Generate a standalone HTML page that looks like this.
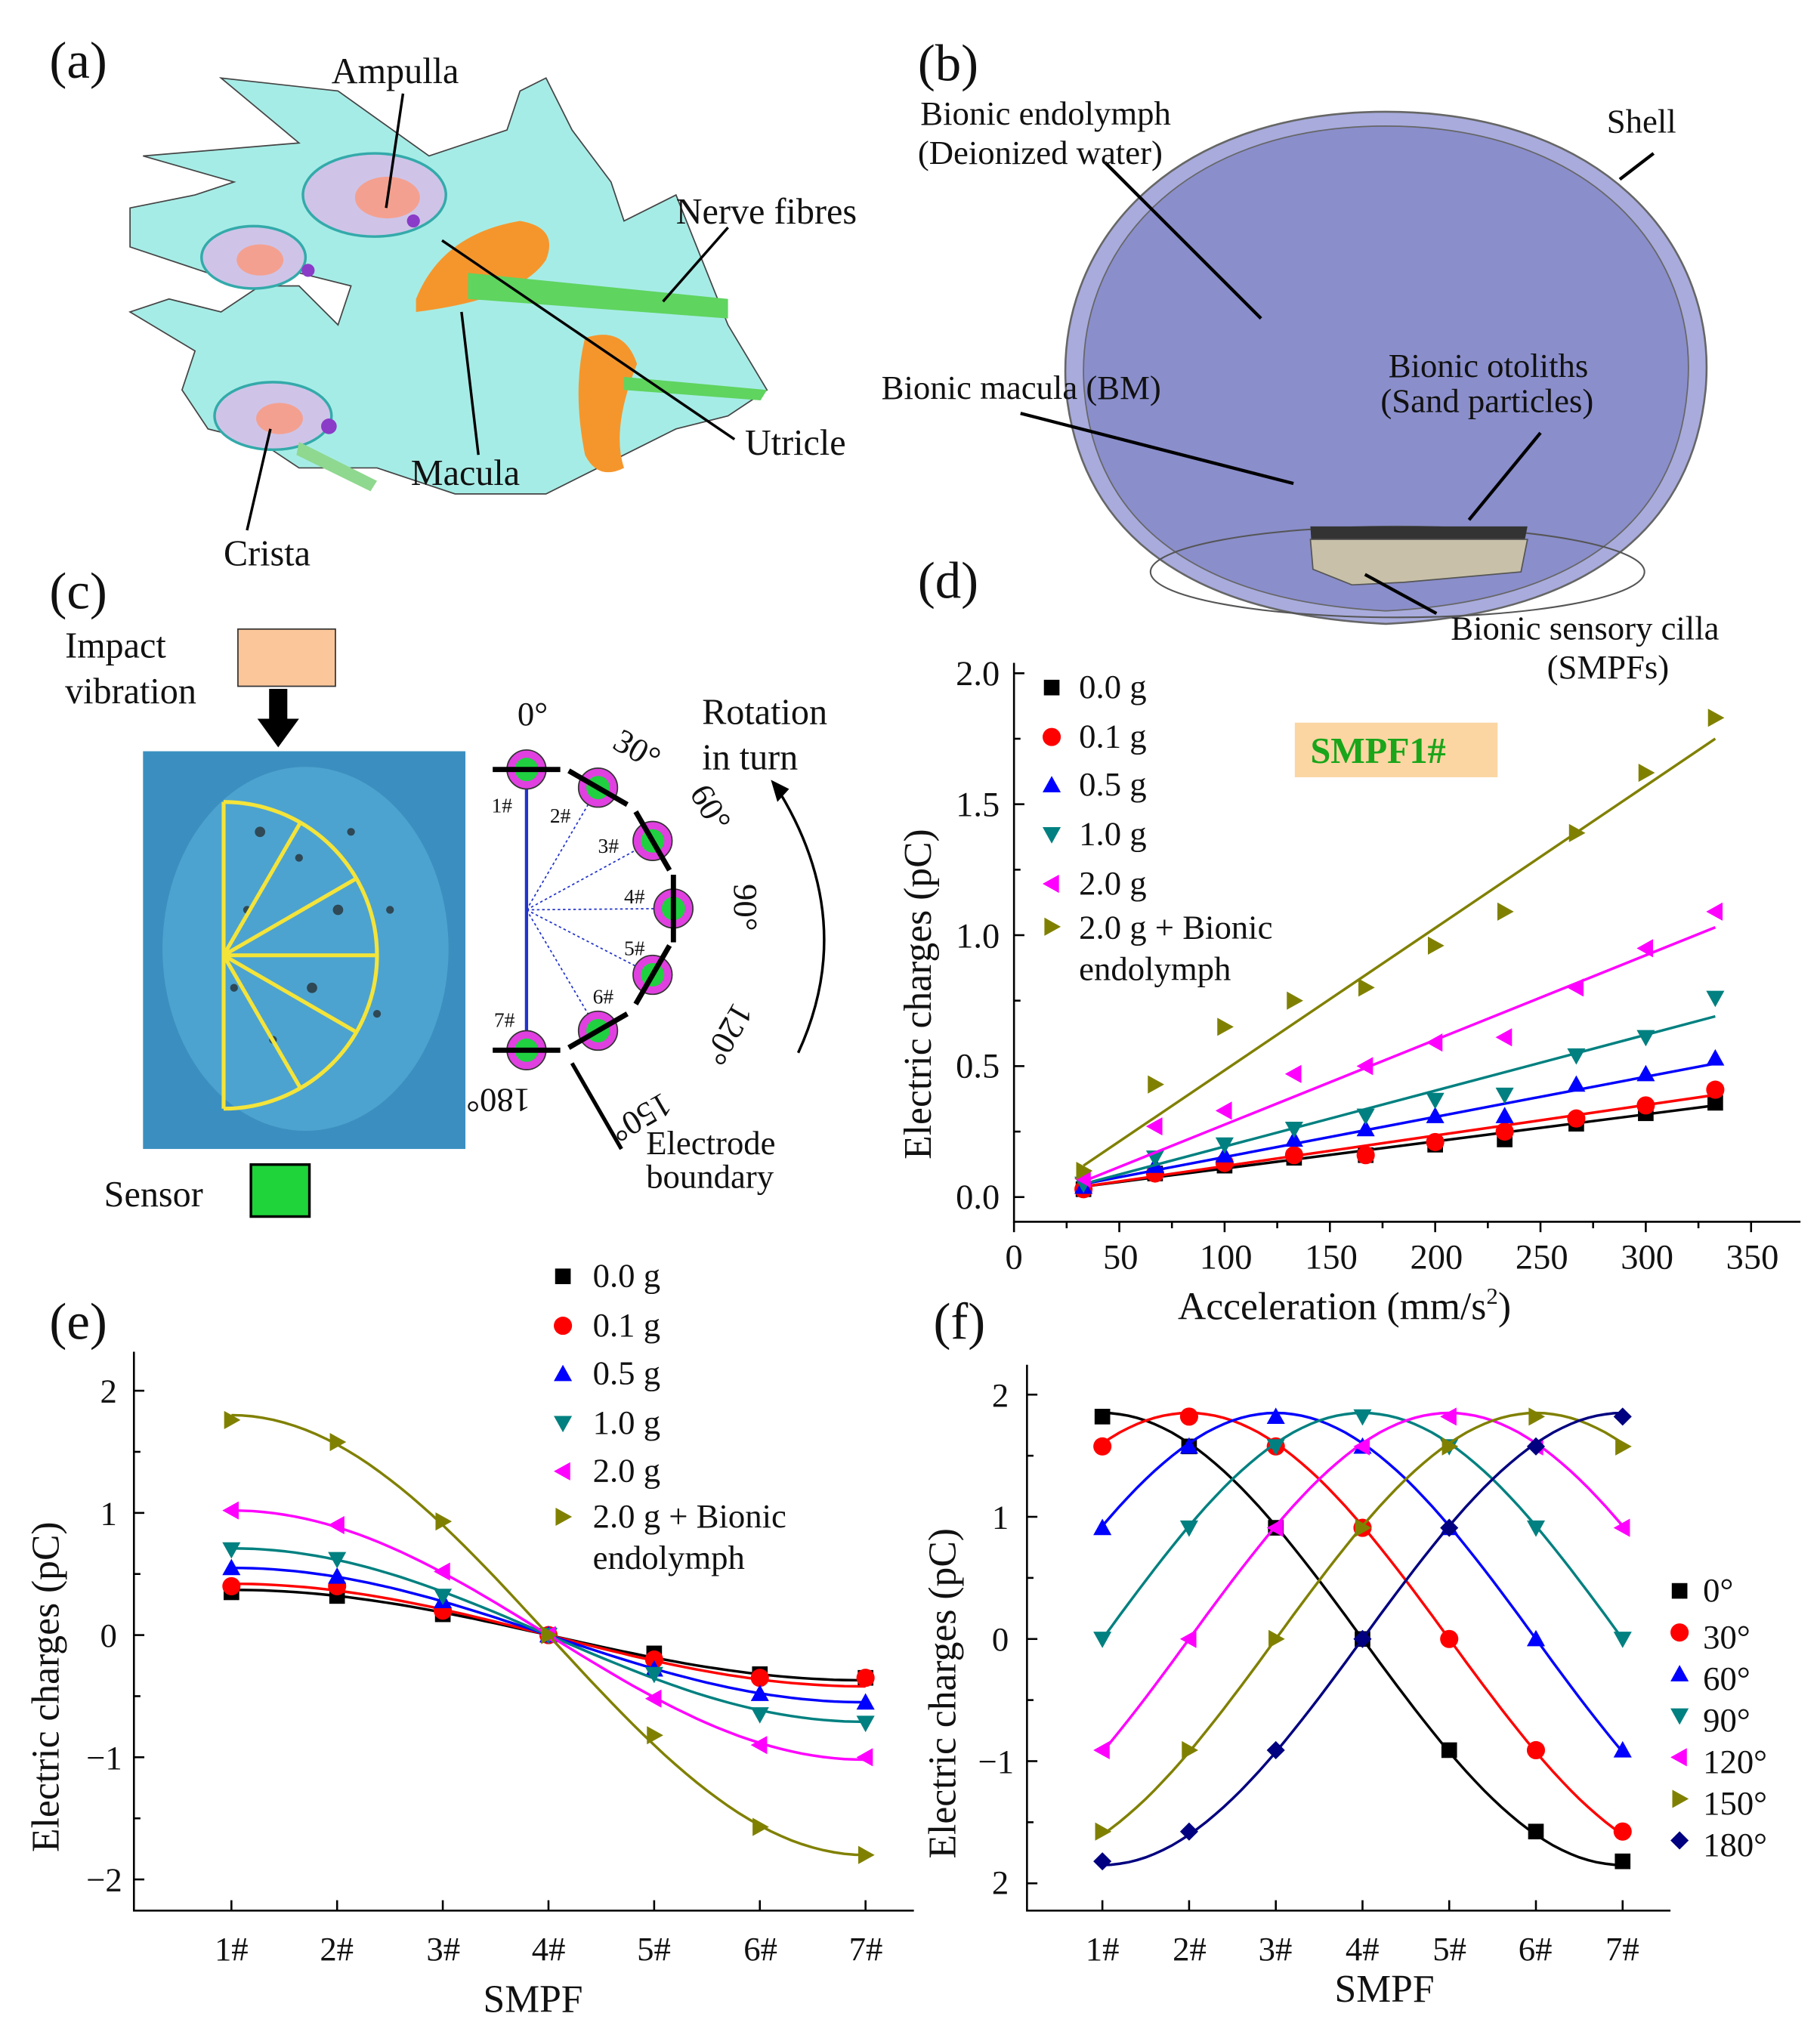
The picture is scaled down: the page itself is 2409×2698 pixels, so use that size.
<!DOCTYPE html>
<html><head><meta charset="utf-8"><style>
html,body{margin:0;padding:0;background:#fff}
svg{display:block}
text{font-family:"Liberation Serif",serif;fill:#111}
</style></head><body>
<svg id="s" width="2409" height="2698" viewBox="0 0 1400 1568" xmlns="http://www.w3.org/2000/svg">
<rect width="1400" height="1568" fill="#fff"/>
<!-- Panel a -->
<g>
<path d="M110 120 L230 110 L170 60 L260 70 L330 120 L390 100 L400 70 L420 60 L430 80 L440 100 L470 140 L480 170 L520 150 L560 250 L590 300 L560 320 L520 330 L460 360 L420 380 L350 380 L290 360 L230 360 L200 340 L160 330 L140 300 L150 270 L100 240 L130 230 L170 240 L200 220 L230 220 L260 250 L270 220 L230 210 L160 210 L100 190 L100 160 L150 150 L180 140 Z" fill="#a6ece6" stroke="#444" stroke-width="1"/>
<ellipse cx="288" cy="150" rx="55" ry="32" fill="#cfc4e8" stroke="#3aa" stroke-width="2"/>
<ellipse cx="298" cy="152" rx="25" ry="16" fill="#f4a090"/>
<ellipse cx="195" cy="198" rx="40" ry="24" fill="#cfc4e8" stroke="#3aa" stroke-width="2"/>
<ellipse cx="200" cy="200" rx="18" ry="12" fill="#f4a090"/>
<ellipse cx="210" cy="320" rx="45" ry="26" fill="#cfc4e8" stroke="#3aa" stroke-width="2"/>
<ellipse cx="215" cy="322" rx="18" ry="12" fill="#f4a090"/>
<path d="M320 230 Q340 180 400 170 Q430 175 420 200 Q400 230 320 240 Z" fill="#f5962c"/>
<path d="M450 260 Q480 250 490 280 Q470 330 480 360 Q460 370 450 350 Q440 300 450 260 Z" fill="#f5962c"/>
<path d="M360 210 L560 230 L560 245 L360 230 Z" fill="#5fd45f"/>
<path d="M480 290 L590 300 L585 308 L480 300 Z" fill="#5fd45f"/>
<path d="M230 340 L290 370 L285 378 L228 350 Z" fill="#8fd88f"/>
<circle cx="237" cy="208" r="5" fill="#8a3bc8"/><circle cx="318" cy="170" r="5" fill="#8a3bc8"/><circle cx="253" cy="328" r="6" fill="#8a3bc8"/>
<g stroke="#000" stroke-width="2"><line x1="310" y1="72" x2="297" y2="160"/><line x1="560" y1="175" x2="510" y2="232"/><line x1="340" y1="185" x2="565" y2="338"/><line x1="355" y1="240" x2="368" y2="350"/><line x1="208" y1="330" x2="190" y2="408"/></g>
<text x="38" y="60" font-size="40">(a)</text>
<text x="255" y="64" font-size="28">Ampulla</text>
<text x="520" y="172" font-size="28">Nerve fibres</text>
<text x="573" y="350" font-size="28">Utricle</text>
<text x="316" y="373" font-size="28">Macula</text>
<text x="172" y="435" font-size="28">Crista</text>
</g>
<!-- Panel b -->
<g>
<path d="M1066 86 C1235 86 1322 190 1312 300 C1302 400 1230 472 1066 480 C900 472 830 400 820 300 C812 190 897 86 1066 86 Z" fill="#a8abdc" stroke="#666" stroke-width="1.5"/>
<path d="M1066 97 C1225 97 1308 195 1298 300 C1290 395 1222 462 1066 470 C910 462 842 395 834 300 C826 195 907 97 1066 97 Z" fill="#8a8ecb" stroke="#666" stroke-width="1"/>
<ellipse cx="1075" cy="440" rx="190" ry="35" fill="none" stroke="#555" stroke-width="1.2"/>
<path d="M1008 405 L1175 405 L1170 430 L1120 440 L1010 438 Z" fill="#333"/>
<path d="M1008 415 L1175 415 L1170 440 L1080 448 L1040 450 L1010 438 Z" fill="#c8c0a8" stroke="#555"/>
<g stroke="#000" stroke-width="2.5"><line x1="850" y1="125" x2="970" y2="245"/><line x1="1272" y1="118" x2="1246" y2="138"/><line x1="785" y1="318" x2="995" y2="372"/><line x1="1185" y1="333" x2="1130" y2="400"/><line x1="1050" y1="442" x2="1105" y2="472"/></g>
<text x="706" y="62" font-size="40">(b)</text>
<text x="708" y="96" font-size="26">Bionic endolymph</text>
<text x="706" y="126" font-size="26">(Deionized water)</text>
<text x="1236" y="102" font-size="26">Shell</text>
<text x="678" y="307" font-size="26">Bionic macula (BM)</text>
<text x="1068" y="290" font-size="26">Bionic otoliths</text>
<text x="1062" y="317" font-size="26">(Sand particles)</text>
<text x="1116" y="492" font-size="26">Bionic sensory cilla</text>
<text x="1190" y="522" font-size="26">(SMPFs)</text>
</g>
<!-- Panel c -->
<g>
<text x="38" y="468" font-size="40">(c)</text>
<text x="50" y="506" font-size="28">Impact</text>
<text x="50" y="541" font-size="28">vibration</text>
<rect x="183" y="484" width="75" height="44" fill="#fbc79a" stroke="#333"/>
<rect x="207" y="530" width="14" height="25" fill="#000"/><path d="M198 553 L230 553 L214 575 Z" fill="#000"/>
<rect x="110" y="578" width="248" height="306" fill="#3b8fc0"/>
<ellipse cx="235" cy="730" rx="110" ry="140" fill="#5ab0d8" opacity="0.6"/>
<g fill="#222" opacity="0.7"><circle cx="200" cy="640" r="4"/><circle cx="230" cy="660" r="3"/><circle cx="260" cy="700" r="4"/><circle cx="190" cy="700" r="3"/><circle cx="240" cy="760" r="4"/><circle cx="270" cy="640" r="3"/><circle cx="210" cy="800" r="3"/><circle cx="290" cy="780" r="3"/><circle cx="180" cy="760" r="3"/><circle cx="300" cy="700" r="3"/></g>
<g stroke="#f4e43a" stroke-width="3" fill="none"><path d="M172 617 A118 118 0 0 1 172 853"/><line x1="172" y1="617" x2="172" y2="853"/><line x1="172" y1="735" x2="231" y2="633"/><line x1="172" y1="735" x2="274" y2="676"/><line x1="172" y1="735" x2="290" y2="735"/><line x1="172" y1="735" x2="274" y2="794"/><line x1="172" y1="735" x2="231" y2="837"/></g>
<text x="80" y="928" font-size="28">Sensor</text>
<rect x="193" y="896" width="45" height="40" fill="#1ed43a" stroke="#000" stroke-width="2"/>
<line x1="405" y1="592" x2="405" y2="808" stroke="#2233cc" stroke-width="2.5"/>
<g stroke="#2233cc" stroke-width="1" stroke-dasharray="2,2"><line x1="405" y1="700" x2="460" y2="606"/><line x1="405" y1="700" x2="502" y2="647"/><line x1="405" y1="700" x2="518" y2="699"/><line x1="405" y1="700" x2="502" y2="750"/><line x1="405" y1="700" x2="460" y2="793"/></g>
<g id="dots"></g>
<text x="398" y="558" font-size="26">0°</text>
<text x="470" y="575" font-size="26" transform="rotate(30 470 575)">30°</text>
<text x="530" y="610" font-size="26" transform="rotate(60 530 610)">60°</text>
<text x="565" y="680" font-size="26" transform="rotate(90 565 680)">90°</text>
<text x="565" y="770" font-size="26" transform="rotate(120 565 770)">120°</text>
<text x="510" y="840" font-size="26" transform="rotate(150 510 840)">150°</text>
<text x="408" y="838" font-size="26" transform="rotate(180 408 838)">180°</text>
<text x="378" y="625" font-size="16">1#</text><text x="423" y="633" font-size="16">2#</text><text x="460" y="656" font-size="16">3#</text><text x="480" y="695" font-size="16">4#</text><text x="480" y="735" font-size="16">5#</text><text x="456" y="772" font-size="16">6#</text><text x="380" y="790" font-size="16">7#</text>
<text x="540" y="557" font-size="28">Rotation</text>
<text x="540" y="592" font-size="28">in turn</text>
<path d="M614 810 Q660 710 600 610" fill="none" stroke="#000" stroke-width="2"/><path d="M593 600 L607 607 L598 617 Z" fill="#000"/>
<line x1="440" y1="818" x2="478" y2="884" stroke="#000" stroke-width="3"/>
<text x="497" y="888" font-size="26">Electrode</text>
<text x="497" y="914" font-size="26">boundary</text>
</g>
<!-- Panel d -->
<g>
<text x="706" y="460" font-size="40">(d)</text>
<path d="M780 510 L780 940 L1385 940" fill="none" stroke="#000" stroke-width="1.5"/>
<rect x="996" y="556" width="156" height="42" fill="#fbd6a2"/>
<text x="1008" y="587" font-size="28" font-weight="bold" style="fill:#1aa51a">SMPF1#</text>
<g font-size="27" text-anchor="end"><text x="769" y="930">0.0</text><text x="769" y="829">0.5</text><text x="769" y="729">1.0</text><text x="769" y="628">1.5</text><text x="769" y="527">2.0</text></g>
<g font-size="27" text-anchor="middle"><text x="780" y="976">0</text><text x="862" y="976">50</text><text x="943" y="976">100</text><text x="1024" y="976">150</text><text x="1105" y="976">200</text><text x="1186" y="976">250</text><text x="1267" y="976">300</text><text x="1348" y="976">350</text></g>
<text x="906" y="1015" font-size="30">Acceleration (mm/s<tspan font-size="18" dy="-12">2</tspan><tspan dy="12">)</tspan></text>
<text transform="translate(716 892) rotate(-90)" font-size="30">Electric charges (pC)</text>
<g font-size="26"><text x="830" y="537">0.0 g</text><text x="830" y="575">0.1 g</text><text x="830" y="612">0.5 g</text><text x="830" y="650">1.0 g</text><text x="830" y="688">2.0 g</text><text x="830" y="722">2.0 g + Bionic</text><text x="830" y="754">endolymph</text></g>
</g>
<!-- Panel e -->
<g>
<text x="38" y="1030" font-size="40">(e)</text>
<path d="M103 1040 L103 1470 L703 1470" fill="none" stroke="#000" stroke-width="1.5"/>
<g font-size="26" text-anchor="end"><text x="90" y="1079">2</text><text x="90" y="1173">1</text><text x="90" y="1267">0</text><text x="94" y="1361">−1</text><text x="94" y="1455">−2</text></g>
<g font-size="26" text-anchor="middle"><text x="178" y="1508">1#</text><text x="259" y="1508">2#</text><text x="341" y="1508">3#</text><text x="422" y="1508">4#</text><text x="503" y="1508">5#</text><text x="585" y="1508">6#</text><text x="666" y="1508">7#</text></g>
<text x="410" y="1548" font-size="30" text-anchor="middle">SMPF</text>
<text transform="translate(45 1425) rotate(-90)" font-size="30">Electric charges (pC)</text>
<g font-size="26"><text x="456" y="990">0.0 g</text><text x="456" y="1028">0.1 g</text><text x="456" y="1065">0.5 g</text><text x="456" y="1103">1.0 g</text><text x="456" y="1140">2.0 g</text><text x="456" y="1175">2.0 g + Bionic</text><text x="456" y="1207">endolymph</text></g>
</g>
<!-- Panel f -->
<g>
<text x="718" y="1030" font-size="40">(f)</text>
<path d="M790 1050 L790 1470 L1285 1470" fill="none" stroke="#000" stroke-width="1.5"/>
<g font-size="26" text-anchor="end"><text x="776" y="1082">2</text><text x="776" y="1176">1</text><text x="776" y="1270">0</text><text x="780" y="1364">−1</text><text x="776" y="1457">2</text></g>
<g font-size="26" text-anchor="middle"><text x="848" y="1508">1#</text><text x="915" y="1508">2#</text><text x="981" y="1508">3#</text><text x="1048" y="1508">4#</text><text x="1115" y="1508">5#</text><text x="1181" y="1508">6#</text><text x="1248" y="1508">7#</text></g>
<text x="1065" y="1540" font-size="30" text-anchor="middle">SMPF</text>
<text transform="translate(735 1430) rotate(-90)" font-size="30">Electric charges (pC)</text>
<g font-size="26"><text x="1310" y="1232">0°</text><text x="1310" y="1268">30°</text><text x="1310" y="1300">60°</text><text x="1310" y="1332">90°</text><text x="1310" y="1364">120°</text><text x="1310" y="1396">150°</text><text x="1310" y="1428">180°</text></g>
</g>
<g id="plots"></g>
</svg>
<script>
var NS="http://www.w3.org/2000/svg",P=document.getElementById("plots");
var C=["#000","#f00","#00f","#008080","#f0f","#808000","#000080"];
function el(t,a,p){var e=document.createElementNS(NS,t);for(var k in a)e.setAttribute(k,a[k]);(p||P).appendChild(e);return e;}
function mk(t,x,y,c,s){s=s||7;var p;
 if(t==0)return el("rect",{x:x-s+1,y:y-s+1,width:2*s-2,height:2*s-2,fill:c});
 if(t==1)return el("circle",{cx:x,cy:y,r:s,fill:c});
 if(t==2)p=[[x,y-s],[x+s,y+s*.8],[x-s,y+s*.8]];
 if(t==3)p=[[x,y+s],[x+s,y-s*.8],[x-s,y-s*.8]];
 if(t==4)p=[[x-s,y],[x+s*.8,y-s],[x+s*.8,y+s]];
 if(t==5)p=[[x+s,y],[x-s*.8,y-s],[x-s*.8,y+s]];
 if(t==6)p=[[x,y-s],[x+s,y],[x,y+s],[x-s,y]];
 el("polygon",{points:p.map(function(q){return q.join(",")}).join(" "),fill:c});}
function tk(x1,y1,x2,y2){el("line",{x1:x1,y1:y1,x2:x2,y2:y2,stroke:"#000","stroke-width":1.5});}
// ticks d
for(var v=0;v<=350;v+=25){var x=780+v*1.62;tk(x,940,x,v%50?945:948);}
for(var v=0;v<=2.0001;v+=0.25){var y=921-v*201.5;tk(780,y,(Math.round(v*4)%2)?785:788,y);}
// ticks e
for(var i=0;i<7;i++){tk(178+i*81.3,1470,178+i*81.3,1462);tk(848+i*66.7,1470,848+i*66.7,1462);}
for(var v=-2;v<=2;v+=0.5){tk(103,1258-v*94,v%1?108:111,1258-v*94);tk(790,1261-v*94,v%1?795:798,1261-v*94);}
// legends
for(var i=0;i<6;i++){mk(i,809,[529,567,604,642,680,713][i],C[i],7);mk(i,433,[982,1020,1057,1095,1132,1167][i],C[i],7);}
for(var i=0;i<7;i++)mk(i,1292,1224+i*32,C[i],7);
// d
var X=[33,67,100,133,167,200,233,267,300,333];
var D=[[.03,.09,.12,.15,.16,.20,.22,.28,.32,.36],[.03,.09,.13,.16,.16,.21,.25,.30,.35,.41],[.04,.12,.16,.22,.26,.31,.31,.43,.47,.53],[.05,.15,.20,.26,.31,.37,.39,.54,.61,.76],[.07,.27,.33,.47,.50,.59,.61,.80,.95,1.09],[.10,.43,.65,.75,.80,.96,1.09,1.39,1.62,1.83]];
var L=[[.04,.35],[.04,.39],[.05,.51],[.05,.69],[.06,1.03],[.12,1.75]];
function dx(v){return 780+v*1.62}function dy(v){return 921-v*201.5}
for(var s=0;s<6;s++){el("line",{x1:dx(33),y1:dy(L[s][0]),x2:dx(333),y2:dy(L[s][1]),stroke:C[s],"stroke-width":2});
 for(var j=0;j<10;j++)mk(s,dx(X[j]),dy(D[s][j]),C[s],7);}
// e
var A=[.37,.42,.55,.71,1.02,1.8];
var E=[[.35,.32,.17,0,-.15,-.32,-.35],[.4,.4,.2,0,-.2,-.35,-.35],[.55,.48,.28,0,-.28,-.48,-.55],[.7,.62,.32,0,-.32,-.65,-.72],[1.02,.9,.52,0,-.52,-.9,-1.0],[1.76,1.58,.93,0,-.82,-1.57,-1.8]];
function ex(i){return 178+i*81.3}function ey(v){return 1258-v*94}
for(var s=0;s<6;s++){var d="";for(var k=0;k<=60;k++){var t=k/10;d+=(k?"L":"M")+ex(t).toFixed(1)+" "+ey(A[s]*Math.cos(Math.PI*t/6)).toFixed(1);}
 el("path",{d:d,fill:"none",stroke:C[s],"stroke-width":2});for(var j=0;j<7;j++)mk(s,ex(j),ey(E[s][j]),C[s],7);}
// f
function fx(i){return 848+i*66.7}function fy(v){return 1261-v*94}
for(var s=0;s<7;s++){var ph=s*Math.PI/6,d="";for(var k=0;k<=60;k++){var t=k/10;d+=(k?"L":"M")+fx(t).toFixed(1)+" "+fy(1.85*Math.cos(Math.PI*t/6-ph)).toFixed(1);}
 el("path",{d:d,fill:"none",stroke:C[s],"stroke-width":2});for(var j=0;j<7;j++)mk(s,fx(j),fy(1.82*Math.cos(Math.PI*j/6-ph)),C[s],7);}
// c dots
var G=document.getElementById("dots"),pos=[[405,592,0],[460,606,30],[502,647,60],[518,699,90],[502,750,120],[460,793,150],[405,808,180]];
pos.forEach(function(p){el("circle",{cx:p[0],cy:p[1],r:15,fill:"#e040e0",stroke:"#333"},G);el("circle",{cx:p[0],cy:p[1],r:9,fill:"#20d040"},G);
 var a=p[2]*Math.PI/180,ux=Math.cos(a)*26,uy=Math.sin(a)*26;el("line",{x1:p[0]-ux,y1:p[1]-uy,x2:p[0]+ux,y2:p[1]+uy,stroke:"#000","stroke-width":4},G);});
</script>
</body></html>
